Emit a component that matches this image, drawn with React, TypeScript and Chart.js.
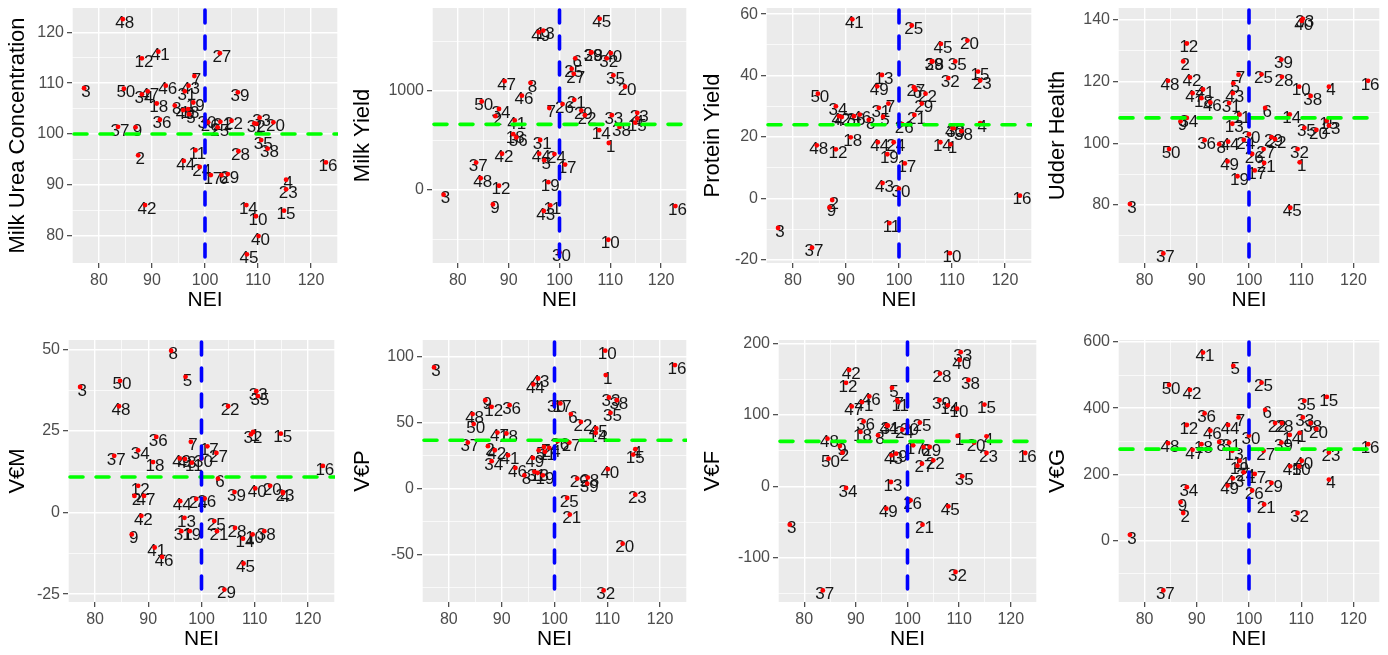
import React, { useEffect, useRef } from "react";
import { Chart, registerables } from "chart.js";

Chart.register(...registerables);
Chart.defaults.font.family = "'Liberation Sans', Arial, sans-serif";

// ---------- data ----------
const animalLabels = [
  "1", "2", "3", "4", "5", "6", "7", "8", "9", "10",
  "11", "12", "13", "14", "15", "16", "17", "18", "19", "20",
  "21", "22", "23", "24", "25", "26", "27", "28", "29", "30",
  "31", "32", "33", "34", "35", "36", "37", "38", "39", "40",
  "41", "42", "43", "44", "45", "46", "47", "48", "49", "50",
];

const nei = [
  109.7, 87.4, 77.2, 115.3, 97.0, 103.1, 98.0, 94.3, 86.9, 109.6,
  98.2, 88.1, 96.8, 107.8, 114.9, 122.8, 101.1, 90.9, 97.8, 112.9,
  102.9, 105.0, 115.3, 99.0, 102.4, 100.6, 102.8, 106.3, 104.3, 100.0,
  96.2, 109.3, 110.3, 88.1, 110.6, 91.5, 83.6, 111.8, 106.2, 110.1,
  91.2, 88.7, 96.9, 96.0, 107.9, 92.6, 89.2, 84.5, 95.9, 84.7,
];

const milkUrea = [
  102.0, 95.8, 109.0, 91.0, 103.9, 91.9, 111.4, 105.6, 101.3, 83.8,
  96.8, 114.9, 104.9, 86.0, 84.9, 94.4, 91.9, 106.0, 106.2, 102.3,
  102.4, 102.6, 89.1, 93.5, 101.3, 102.3, 115.9, 96.6, 92.1, 102.8,
  108.4, 102.1, 103.2, 107.8, 98.8, 102.8, 101.4, 97.1, 108.2, 79.9,
  116.2, 86.0, 109.5, 94.7, 76.3, 109.5, 108.4, 122.6, 104.7, 108.9,
];

const milkYield = [
  472, 743, -50, 720, 297, 1327, 825, 1079, -149, -505,
  -158, 40, 1607, 601, 677, -165, 254, 561, 76, 1040,
  908, 752, 776, 360, 1221, 865, 1170, 1386, 799, -634,
  502, 1327, 752, 815, 1155, 528, 274, 634, 1386, 1380,
  700, 363, -215, 363, 1726, 950, 1096, 116, 1590, 891,
];

const proteinYield = [
  17.6, -0.5, -9.6, 24.5, 26.6, 35.4, 30.9, 25.6, -2.9, -17.8,
  -8.0, 16.0, 40.2, 18.3, 41.3, 0.9, 11.4, 19.9, 14.4, 51.4,
  27.2, 34.1, 38.4, 18.3, 56.3, 24.2, 36.2, 44.6, 30.9, 3.2,
  29.5, 39.2, 22.9, 30.0, 44.6, 26.8, -16.0, 21.9, 44.6, 22.9,
  58.3, 26.8, 5.0, 18.3, 50.3, 27.3, 26.5, 17.3, 36.5, 34.1,
];

const udderHealth = [
  93.8, 126.5, 80.3, 118.3, 119.4, 111.4, 122.2, 99.7, 107.1, 118.3,
  109.3, 132.3, 106.3, 109.3, 107.3, 120.2, 91.2, 114.6, 89.3, 104.3,
  93.6, 101.3, 105.7, 101.1, 122.3, 96.5, 98.1, 121.5, 102.0, 102.9,
  113.0, 98.1, 140.3, 108.2, 105.0, 101.0, 64.3, 115.3, 127.1, 139.6,
  117.4, 121.3, 116.2, 100.5, 79.1, 113.2, 116.2, 120.2, 94.1, 98.1,
];

const vemValues = [
  24.7, 5.1, 38.5, 6.0, 41.6, 10.4, 21.7, 49.6, -6.7, -6.7,
  15.3, 8.2, -1.6, -8.0, 24.2, 14.3, 20.3, 15.5, -5.7, 8.2,
  -5.7, 32.6, 6.3, 4.2, -2.6, 4.3, 18.3, -4.7, -23.6, 16.6,
  -5.7, 24.0, 37.2, 19.1, 35.7, 23.2, 17.4, -5.7, 6.3, 7.4,
  -10.7, -1.0, 16.4, 3.5, -15.6, -13.6, 5.1, 32.6, 16.6, 40.4,
];

const vepValues = [
  86.1, 32.2, 91.9, 29.9, 29.0, 56.5, 31.6, 10.1, 67.0, 104.6,
  28.0, 62.0, 12.0, 42.3, 25.8, 93.7, 64.6, 41.8, 10.1, -41.8,
  -19.7, 50.6, -4.6, 30.9, -7.1, 36.0, 34.9, 8.4, 7.6, 64.6,
  12.7, -77.2, 69.1, 20.8, 57.5, 63.3, 34.9, 67.0, 3.8, 14.7,
  25.3, 29.1, 83.5, 79.0, 45.6, 15.7, 42.5, 56.5, 23.3, 48.9,
];

const vefValues = [
  70.6, 47.2, -53.7, 70.1, 138, 55, 120.6, 71.5, 56.5, 109,
  118, 145, 6.1, 113.5, 114.5, 46.7, 57.5, 76.2, 45.8, 61.2,
  -53.7, 36.4, 46.7, 79.4, 89.3, -19.6, 31.8, 158, 55.1, 84.6,
  85, -120, 188, -2.3, 14, 91, -145.8, 149, 120.6, 177,
  118, 163, 43.5, 85.5, -28, 126, 112, 66.8, -31.3, 38.8,
];

const vegValues = [
  325, 83, 17, 184, 528, 395, 372, 298, 116, 224,
  241, 349, 271, 319, 434, 291, 201, 291, 226, 337,
  109, 355, 266, 206, 477, 151, 271, 355, 174, 317,
  296, 83, 372, 161, 422, 384, -151, 355, 296, 241,
  568, 455, 188, 349, 224, 332, 274, 294, 166, 470,
];

const panelTitles = [
  "Milk Urea Concentration", "Milk Yield", "Protein Yield", "Udder Health",
  "V€M", "V€P", "V€F", "V€G",
];
const meanLines = [100, 660, 24, 108.2, 10.9, 36.7, 63, 276];
const neiReference = 100;
const xTitle = "NEI";
const xMajorTicks = [80, 90, 100, 110, 120];
const xMinorTicks = [75, 85, 95, 105, 115, 125];
const yMajorTicks = [
  [80, 90, 100, 110, 120],
  [0, 1000],
  [-20, 0, 20, 40, 60],
  [80, 100, 120, 140],
  [-25, 0, 25, 50],
  [-50, 0, 50, 100],
  [-100, 0, 100, 200],
  [0, 200, 400, 600],
];
const yMinorTicks = [
  [85, 95, 105, 115],
  [-500, 500, 1500],
  [-10, 10, 30, 50],
  [70, 90, 110, 130],
  [-12.5, 12.5, 37.5],
  [-75, -25, 25, 75],
  [-150, -50, 50, 150],
  [-100, 100, 300, 500],
];
const seriesValues = [
  milkUrea, milkYield, proteinYield, udderHealth,
  vemValues, vepValues, vefValues, vegValues,
];

// ---------- layout (positions / ranges) ----------
const X_MIN = 74.92;
const X_MAX = 125.08;
const yRanges = [
  [74.6, 124.8],
  [-740, 1835],
  [-21, 62],
  [61.2, 143.8],
  [-27.4, 52.9],
  [-86, 112.7],
  [-162, 205],
  [-186, 606],
];
const boxes = [
  { left: 0, top: 0, width: 345, height: 320, yAxisW: 72, padTop: 8, padRight: 7, xAxisH: 57, xTitlePad: 7 },
  { left: 345, top: 0, width: 350, height: 320, yAxisW: 87, padTop: 8, padRight: 8, xAxisH: 57, xTitlePad: 7 },
  { left: 695, top: 0, width: 345, height: 320, yAxisW: 71, padTop: 8, padRight: 8, xAxisH: 57, xTitlePad: 7 },
  { left: 1040, top: 0, width: 348, height: 320, yAxisW: 78, padTop: 8, padRight: 8, xAxisH: 57, xTitlePad: 7 },
  { left: 0, top: 330, width: 345, height: 325, yAxisW: 68, padTop: 10, padRight: 10, xAxisH: 53, xTitlePad: 3 },
  { left: 345, top: 330, width: 350, height: 325, yAxisW: 77, padTop: 10, padRight: 8, xAxisH: 53, xTitlePad: 3 },
  { left: 695, top: 330, width: 345, height: 325, yAxisW: 83, padTop: 10, padRight: 3, xAxisH: 53, xTitlePad: 3 },
  { left: 1040, top: 330, width: 348, height: 325, yAxisW: 78, padTop: 10, padRight: 8, xAxisH: 53, xTitlePad: 3 },
];

function PanelChart({ index }: { index: number }) {
  const ref = useRef<HTMLCanvasElement>(null);
  const box = boxes[index];

  useEffect(() => {
    const canvas = ref.current;
    if (!canvas) return;
    const values = seriesValues[index];
    const [yMin, yMax] = yRanges[index];
    const yMaj = yMajorTicks[index];
    const yMin2 = yMinorTicks[index];
    const hline = meanLines[index];

    const within = (lo: number, hi: number) => (v: number) => v >= lo && v <= hi;
    const xTickVals = [...xMajorTicks, ...xMinorTicks].filter(within(X_MIN, X_MAX)).sort((a, b) => a - b);
    const yTickVals = [...yMaj, ...yMin2].filter(within(yMin, yMax)).sort((a, b) => a - b);
    const isXMajor = (v: number) => xMajorTicks.includes(v);
    const isYMajor = (v: number) => yMaj.includes(v);

    const panelPlugin = {
      id: "panelDecor" + index,
      beforeDraw(chart: any) {
        const { ctx, chartArea } = chart;
        ctx.save();
        ctx.fillStyle = "#EBEBEB";
        ctx.fillRect(chartArea.left, chartArea.top, chartArea.right - chartArea.left, chartArea.bottom - chartArea.top);
        ctx.restore();
      },
      beforeDatasetsDraw(chart: any) {
        const { ctx, chartArea } = chart;
        const meta = chart.getDatasetMeta(0);
        ctx.save();
        ctx.beginPath();
        ctx.rect(chartArea.left, chartArea.top, chartArea.right - chartArea.left, chartArea.bottom - chartArea.top);
        ctx.clip();
        ctx.font = "17px 'Liberation Sans', Arial, sans-serif";
        ctx.fillStyle = "#151515";
        ctx.textAlign = "center";
        ctx.textBaseline = "middle";
        meta.data.forEach((pt: any, i: number) => {
          ctx.fillText(animalLabels[i], pt.x + 2, pt.y + 4);
        });
        ctx.restore();
      },
      afterDatasetsDraw(chart: any) {
        const { ctx, chartArea, scales } = chart;
        const { left, right, top, bottom } = chartArea;
        ctx.save();
        ctx.beginPath();
        ctx.rect(left, top, right - left, bottom - top);
        ctx.clip();
        ctx.lineCap = "round";
        ctx.lineWidth = 3.6;
        ctx.setLineDash([13, 13]);
        const yp = scales.y.getPixelForValue(hline);
        ctx.strokeStyle = "#00FF00";
        ctx.beginPath();
        ctx.moveTo(left + 2, yp);
        ctx.lineTo(right, yp);
        ctx.stroke();
        const xp = scales.x.getPixelForValue(neiReference);
        ctx.strokeStyle = "#0000FF";
        ctx.beginPath();
        ctx.moveTo(xp, top + 2);
        ctx.lineTo(xp, bottom);
        ctx.stroke();
        ctx.restore();
      },
    };

    const chart = new Chart(canvas, {
      type: "scatter",
      data: {
        datasets: [
          {
            data: nei.map((x, i) => ({ x, y: values[i] })),
            backgroundColor: "#FF0000",
            borderWidth: 0,
            pointRadius: 2.4,
            pointHoverRadius: 2.4,
            pointBorderWidth: 0,
          },
        ],
      },
      options: {
        animation: false,
        responsive: false,
        events: [],
        layout: { padding: { top: box.padTop, right: box.padRight, left: 0, bottom: 0 } },
        plugins: { legend: { display: false }, tooltip: { enabled: false } },
        scales: {
          x: {
            type: "linear",
            min: X_MIN,
            max: X_MAX,
            afterBuildTicks: (s: any) => {
              s.ticks = xTickVals.map((v) => ({ value: v }));
            },
            afterFit: (s: any) => {
              s.height = box.xAxisH;
              s.paddingLeft = 0;
              s.paddingRight = 0;
            },
            ticks: {
              autoSkip: false,
              maxRotation: 0,
              minRotation: 0,
              padding: 3,
              color: "#4D4D4D",
              font: { size: 16 },
              callback: (v: any) => (isXMajor(Number(v)) ? String(v) : ""),
            },
            grid: {
              color: "#FFFFFF",
              lineWidth: (c: any) => (c.tick && isXMajor(c.tick.value) ? 1.4 : 0.7),
              tickLength: 5,
              tickWidth: 1.1,
              tickColor: (c: any) => (c.tick && isXMajor(c.tick.value) ? "#333333" : "rgba(0,0,0,0)"),
            },
            border: { display: false },
            title: {
              display: true,
              text: xTitle,
              color: "#000000",
              font: { size: 21 },
              padding: { top: 0, bottom: box.xTitlePad },
            },
          },
          y: {
            type: "linear",
            min: yMin,
            max: yMax,
            afterBuildTicks: (s: any) => {
              s.ticks = yTickVals.map((v) => ({ value: v }));
            },
            afterFit: (s: any) => {
              s.width = box.yAxisW;
              s.paddingTop = 0;
              s.paddingBottom = 0;
            },
            ticks: {
              autoSkip: false,
              padding: 3,
              color: "#4D4D4D",
              font: { size: 16 },
              callback: (v: any) => (isYMajor(Number(v)) ? String(v) : ""),
            },
            grid: {
              color: "#FFFFFF",
              lineWidth: (c: any) => (c.tick && isYMajor(c.tick.value) ? 1.4 : 0.7),
              tickLength: 5,
              tickWidth: 1.1,
              tickColor: (c: any) => (c.tick && isYMajor(c.tick.value) ? "#333333" : "rgba(0,0,0,0)"),
            },
            border: { display: false },
            title: {
              display: true,
              text: panelTitles[index],
              color: "#000000",
              font: { size: 22 },
              padding: { top: 5, bottom: 0 },
            },
          },
        },
      },
      plugins: [panelPlugin],
    } as any);

    return () => chart.destroy();
  }, [index]);

  return (
    <canvas
      ref={ref}
      width={box.width}
      height={box.height}
      style={{ position: "absolute", left: box.left, top: box.top, width: box.width, height: box.height }}
    />
  );
}

export default function App() {
  return (
    <div
      style={{
        position: "absolute",
        left: 0,
        top: 0,
        width: 1388,
        height: 655,
        overflow: "hidden",
        background: "#FFFFFF",
      }}
    >
      {panelTitles.map((_, i) => (
        <PanelChart key={i} index={i} />
      ))}
    </div>
  );
}
